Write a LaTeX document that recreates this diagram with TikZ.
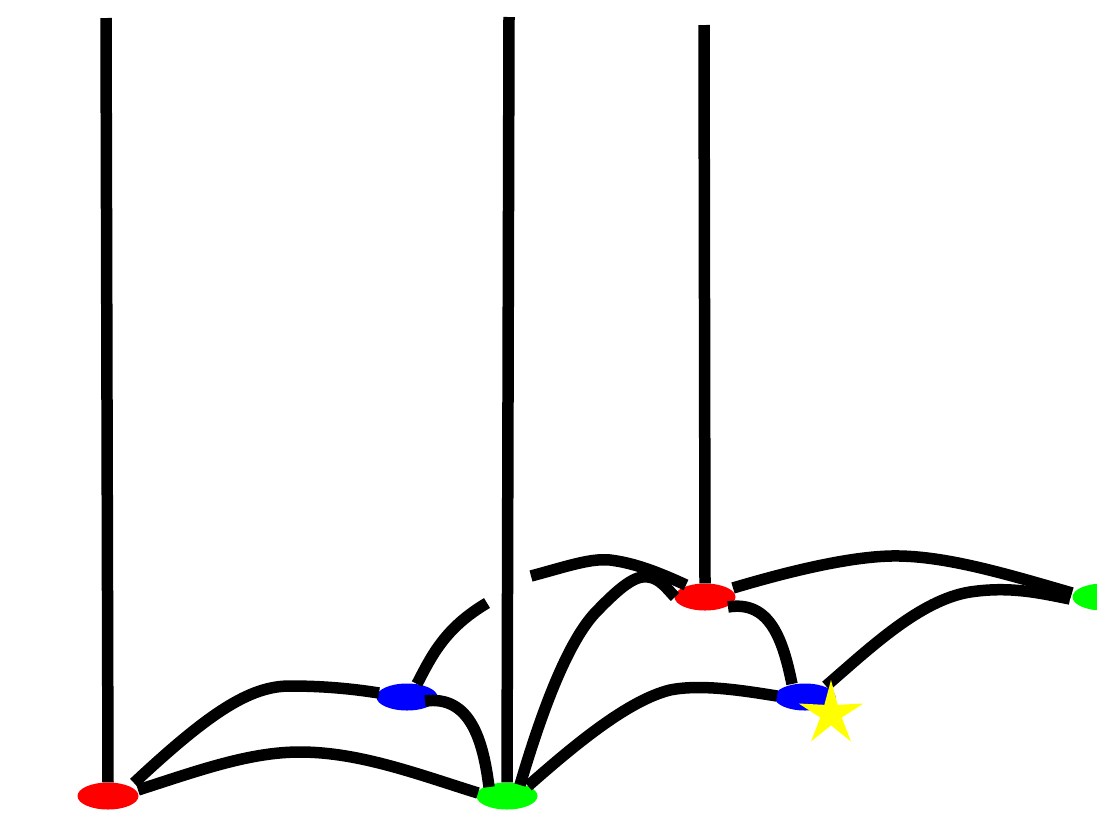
\documentclass[tikz,border=0pt]{standalone}
\usetikzlibrary{shapes.geometric,calc}
\definecolor{pred}{RGB}{255,0,0}
\definecolor{pgreen}{RGB}{0,255,0}
\definecolor{pblue}{RGB}{0,0,255}
\definecolor{pyellow}{RGB}{255,255,0}
\begin{document}
\begin{tikzpicture}[x=1pt,y=-1pt,
  vertex/.style={ellipse,inner sep=0pt,minimum width=61pt,minimum height=27pt,draw=none},
  wire/.style={line width=11.5pt,black,line cap=butt},
  starmark/.style={star,star points=5,star point ratio=3,minimum size=68pt,inner sep=0pt,fill=pyellow,draw=none}]
\useasboundingbox (0,0) rectangle (1097,820);
\fill[white] (0,0) rectangle (1097,820);
% vertices
\node[vertex,fill=pred]   (A) at (108,796) {};
\node[vertex,fill=pgreen] (B) at (507,796) {};
\node[vertex,fill=pblue]  (C) at (407,697) {};
\node[vertex,fill=pred]   (D) at (705,597) {};
\node[vertex,fill=pblue]  (E) at (805,697) {};
\node[vertex,fill=pgreen] (F) at (1103,597) {};
% free ends
\coordinate (t1) at (106,18);
\coordinate (t2) at (509,17);
\coordinate (t3) at (704,25);
\coordinate (g1) at (487,603);
\coordinate (g2) at (531,576);
% vertical strands
\draw[wire] (t1) -- (A.north);
\draw[wire] (t2) -- (B.north);
\draw[wire] (t3) -- (D.north);
% arcs
\draw[wire] ($(A)+(26,-13)$) .. controls (210,712) and (250,686) .. (290,686)
  .. controls (330,686) and (360,690) .. ($(C)+(-28,-4)$);
\draw[wire] ($(A)+(30,-6)$) .. controls (200,770) and (250,752) .. (300,752)
  .. controls (360,752) and (420,775) .. ($(B)+(-29,-3)$);
\draw[wire] ($(C)+(18,4)$) .. controls (470,695) and (483,740) .. ($(B)+(-18,-9)$);
\draw[wire] ($(C)+(10,-13)$) .. controls (432,655) and (445,628) .. (g1);
\draw[wire] (g2) .. controls (565,567) and (590,558) .. (610,560)
  .. controls (635,563) and (660,573) .. ($(D)+(-19,-12)$);
\draw[wire] ($(B)+(13,-11)$) .. controls (545,700) and (570,640) .. (595,613)
  .. controls (620,587) and (635,575) .. (648,577)
  .. controls (660,578) and (668,590) .. ($(D)+(-30,0)$);
\draw[wire] ($(B)+(21,-10)$) .. controls (580,740) and (630,700) .. (670,690)
  .. controls (700,684) and (740,690) .. ($(E)+(-28,-1)$);
\draw[wire] ($(D)+(23,10)$) .. controls (770,600) and (783,640) .. ($(E)+(-13,-13)$);
\draw[wire] ($(D)+(28,-9)$) .. controls (800,568) and (860,555) .. (900,556)
  .. controls (950,557) and (1010,575) .. ($(F)+(-31,-4)$);
\draw[wire] ($(E)+(21,-11)$) .. controls (870,648) and (920,600) .. (970,592)
  .. controls (1010,586) and (1040,593) .. ($(F)+(-33,2)$);
% star
\node[starmark] (S) at (831,714) {};
\end{tikzpicture}
\end{document}
